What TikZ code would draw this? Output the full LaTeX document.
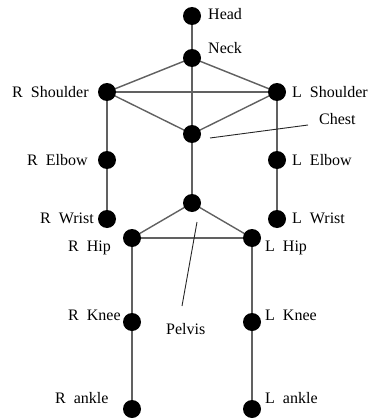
\documentclass[tikz,border=0pt]{standalone}
\usepackage{fontspec}
\setmainfont{Liberation Serif}
\usetikzlibrary{backgrounds}
\begin{document}
\begin{tikzpicture}[x=1pt,y=-1pt,
  joint/.style={circle,fill=black,inner sep=0pt,minimum size=18pt},
  bone/.style={draw=black!62,line width=1.4pt},
  pointer/.style={draw=black!85,line width=0.9pt},
  lbl/.style={anchor=base west,inner sep=0pt,font=\fontsize{16}{18}\selectfont}]
\useasboundingbox (0,0) rectangle (368,420);
% joints
\node[joint] (head)   at (192,16)  {};
\node[joint] (neck)   at (192,58)  {};
\node[joint] (rsh)    at (107,92)  {};
\node[joint] (lsh)    at (277,92)  {};
\node[joint] (chest)  at (192,134) {};
\node[joint] (relb)   at (107,160) {};
\node[joint] (lelb)   at (277,160) {};
\node[joint] (pelvis) at (192,203) {};
\node[joint] (rwr)    at (107,219) {};
\node[joint] (lwr)    at (277,219) {};
\node[joint] (rhip)   at (132,238) {};
\node[joint] (lhip)   at (252,238) {};
\node[joint] (rkn)    at (132,322) {};
\node[joint] (lkn)    at (252,322) {};
\node[joint] (rank)   at (132,409) {};
\node[joint] (lank)   at (252,409) {};
% skeleton, kept behind the joints
\begin{pgfonlayer}{background}
\draw[bone] (head.center) -- (neck.center);
\draw[bone] (neck.center) -- (rsh.center);
\draw[bone] (neck.center) -- (lsh.center);
\draw[bone] (neck.center) -- (chest.center);
\draw[bone] (rsh.center) -- (lsh.center);
\draw[bone] (rsh.center) -- (chest.center);
\draw[bone] (lsh.center) -- (chest.center);
\draw[bone] (rsh.center) -- (relb.center) -- (rwr.center);
\draw[bone] (lsh.center) -- (lelb.center) -- (lwr.center);
\draw[bone] (chest.center) -- (pelvis.center);
\draw[bone] (pelvis.center) -- (rhip.center);
\draw[bone] (pelvis.center) -- (lhip.center);
\draw[bone] (rhip.center) -- (lhip.center);
\draw[bone] (rhip.center) -- (rkn.center) -- (rank.center);
\draw[bone] (lhip.center) -- (lkn.center) -- (lank.center);
\end{pgfonlayer}
% labels
\node[lbl] (tHead)  at (208,20)  {Head};
\node[lbl] (tNeck)  at (208,54)  {Neck};
\node[lbl] (tRsh)   at (12,97)   {R\ \ Shoulder};
\node[lbl] (tLsh)   at (292,97)  {L\ \ Shoulder};
\node[lbl] (tChest) at (319,124) {Chest};
\node[lbl] (tRelb)  at (27,165)  {R\ \ Elbow};
\node[lbl] (tLelb)  at (292,165) {L\ \ Elbow};
\node[lbl] (tRwr)   at (40,223)  {R\ \ Wrist};
\node[lbl] (tLwr)   at (292,223) {L\ \ Wrist};
\node[lbl] (tRhip)  at (68,251)  {R\ \ Hip};
\node[lbl] (tLhip)  at (265,251) {L\ \ Hip};
\node[lbl] (tRkn)   at (68,320)  {R\ \ Knee};
\node[lbl] (tLkn)   at (265,320) {L\ \ Knee};
\node[lbl] (tPelv)  at (166,334) {Pelvis};
\node[lbl] (tRank)  at (55,403)  {R\ \ ankle};
\node[lbl] (tLank)  at (265,403) {L\ \ ankle};
% pointer lines
\coordinate (cA) at (210,138);
\coordinate (cB) at (308,125);
\coordinate (pA) at (197,222);
\coordinate (pB) at (182,306);
\draw[pointer] (cA) -- (cB);
\draw[pointer] (pA) -- (pB);
\end{tikzpicture}
\end{document}
